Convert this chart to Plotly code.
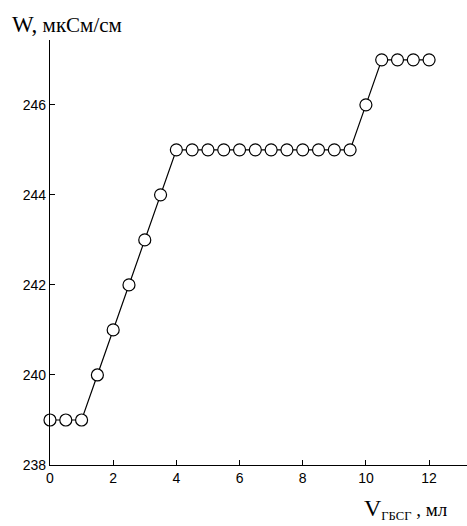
import plotly.graph_objects as go

# Titration data: added volume (ml) vs conductivity (uS/cm)
volume_ml = [0, 0.5, 1, 1.5, 2, 2.5, 3, 3.5, 4, 4.5, 5, 5.5, 6, 6.5, 7, 7.5,
             8, 8.5, 9, 9.5, 10, 10.5, 11, 11.5, 12]
conductivity = [239, 239, 239, 240, 241, 242, 243, 244, 245, 245, 245, 245, 245,
                245, 245, 245, 245, 245, 245, 245, 246, 247, 247, 247, 247]

x_ticks = [0, 2, 4, 6, 8, 10, 12]
y_ticks = [238, 240, 242, 244, 246]

fig = go.Figure()
fig.add_trace(go.Scatter(
    x=volume_ml, y=conductivity, mode="lines+markers",
    line=dict(color="black", width=1.2),
    marker=dict(symbol="circle", size=12, color="white",
                line=dict(color="black", width=1.2)),
    cliponaxis=False, showlegend=False,
))

axis_common = dict(showgrid=False, zeroline=False, showline=True, linecolor="black",
                   linewidth=1.3, ticks="inside", ticklen=5, tickwidth=1.3,
                   tickcolor="black",
                   tickfont=dict(family="Liberation Sans, Arial", size=14, color="black"))

fig.update_xaxes(range=[0, 13.2], tickvals=x_ticks, **axis_common)
fig.update_yaxes(range=[238, 247.44], tickvals=y_ticks, **axis_common)

fig.add_annotation(
    xref="paper", yref="paper", x=0, xshift=-40, y=1.0, yshift=1,
    xanchor="left", yanchor="bottom", showarrow=False,
    text="<span style='font-size:23px'>W,</span> мкСм/см",
    font=dict(family="Liberation Serif, Times New Roman", size=21, color="black"),
)
fig.add_annotation(
    xref="paper", yref="paper", x=0.749, y=0, yshift=-60,
    xanchor="left", yanchor="bottom", showarrow=False,
    text="<span style='font-size:24px'>V</span><span style='font-size:18px'><sub>ГБСГ</sub></span> , мл",
    font=dict(family="Liberation Serif, Times New Roman", size=19, color="black"),
)

fig.update_layout(
    width=467, height=526,
    margin=dict(l=50, r=0, t=40, b=61),
    paper_bgcolor="white", plot_bgcolor="white",
)

fig.write_html("out.html")
